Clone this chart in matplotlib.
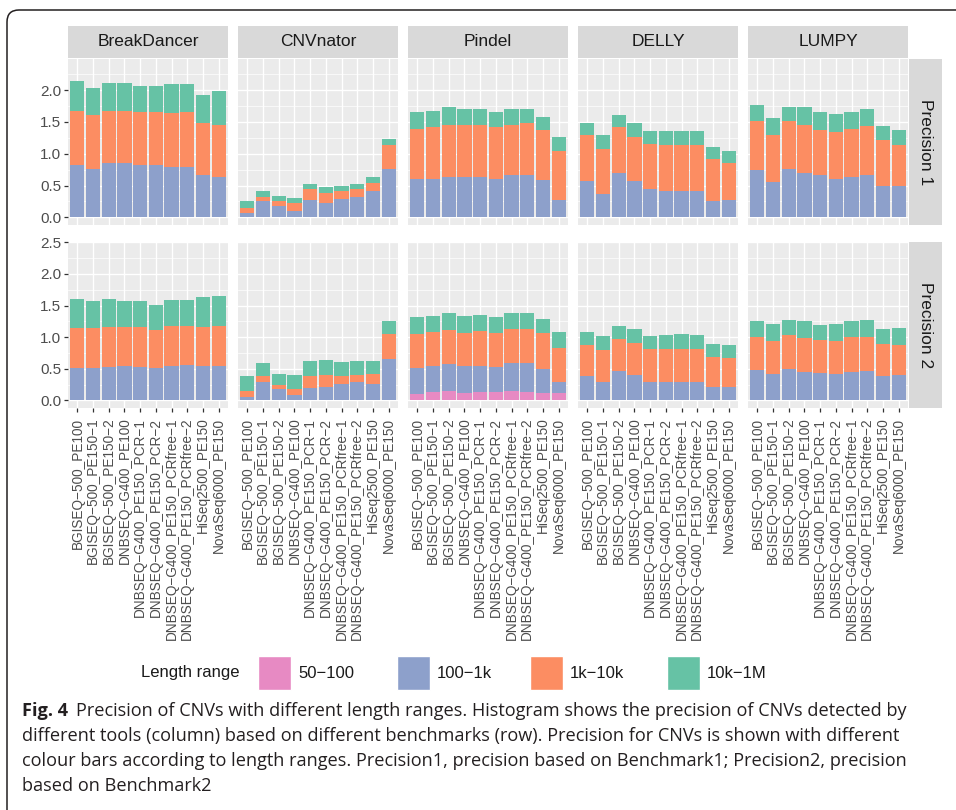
import matplotlib
matplotlib.use("Agg")
import matplotlib.pyplot as plt
import numpy as np
from matplotlib.patches import FancyBboxPatch, Rectangle
from matplotlib.transforms import IdentityTransform

plt.rcParams["font.family"] = ["Liberation Sans", "DejaVu Sans"]

TOOLS = ["BreakDancer", "CNVnator", "Pindel", "DELLY", "LUMPY"]
ROWS = ["Precision 1", "Precision 2"]
SAMPLES = [
    "BGISEQ−500_PE100", "BGISEQ−500_PE150−1", "BGISEQ−500_PE150−2",
    "DNBSEQ−G400_PE100", "DNBSEQ−G400_PE150_PCR−1", "DNBSEQ−G400_PE150_PCR−2",
    "DNBSEQ−G400_PE150_PCRfree−1", "DNBSEQ−G400_PE150_PCRfree−2",
    "HiSeq2500_PE150", "NovaSeq6000_PE150",
]
RANGES = ["50−100", "100−1k", "1k−10k", "10k−1M"]
COLORS = ["#E78AC3", "#8DA0CB", "#FC8D62", "#66C2A5"]

# Precision 1 (Benchmark1); one list per tool, in TOOLS order
P1_50_100 = [
    [0] * 10,
    [0] * 10,
    [0.01] * 10,
    [0] * 10,
    [0] * 10,
]
P1_100_1K = [
    [0.83, 0.76, 0.85, 0.85, 0.82, 0.83, 0.79, 0.79, 0.66, 0.64],
    [0.07, 0.25, 0.18, 0.10, 0.28, 0.23, 0.29, 0.32, 0.41, 0.76],
    [0.60, 0.60, 0.62, 0.62, 0.62, 0.60, 0.65, 0.65, 0.58, 0.27],
    [0.57, 0.37, 0.70, 0.57, 0.44, 0.42, 0.42, 0.41, 0.26, 0.28],
    [0.75, 0.56, 0.76, 0.70, 0.66, 0.61, 0.64, 0.67, 0.50, 0.50],
]
P1_1K_10K = [
    [0.85, 0.85, 0.83, 0.83, 0.83, 0.82, 0.85, 0.86, 0.82, 0.82],
    [0.08, 0.07, 0.07, 0.12, 0.16, 0.15, 0.12, 0.13, 0.13, 0.37],
    [0.78, 0.81, 0.82, 0.82, 0.82, 0.81, 0.80, 0.82, 0.79, 0.76],
    [0.72, 0.71, 0.72, 0.70, 0.72, 0.72, 0.72, 0.73, 0.66, 0.58],
    [0.76, 0.74, 0.75, 0.76, 0.72, 0.74, 0.75, 0.76, 0.71, 0.64],
]
P1_10K_1M = [
    [0.47, 0.42, 0.44, 0.43, 0.41, 0.41, 0.45, 0.44, 0.44, 0.53],
    [0.10, 0.09, 0.08, 0.09, 0.09, 0.10, 0.09, 0.08, 0.09, 0.10],
    [0.26, 0.26, 0.28, 0.26, 0.25, 0.23, 0.25, 0.23, 0.20, 0.22],
    [0.20, 0.22, 0.19, 0.22, 0.20, 0.22, 0.22, 0.22, 0.19, 0.19],
    [0.25, 0.27, 0.23, 0.27, 0.27, 0.27, 0.27, 0.28, 0.23, 0.24],
]

# Precision 2 (Benchmark2)
P2_50_100 = [
    [0, 0.005, 0.005, 0, 0, 0.005, 0.005, 0, 0, 0],
    [0.01, 0, 0, 0, 0, 0, 0, 0, 0, 0],
    [0.10, 0.14, 0.15, 0.12, 0.14, 0.14, 0.15, 0.14, 0.11, 0.11],
    [0, 0.005, 0, 0, 0.005, 0, 0, 0, 0.005, 0],
    [0, 0, 0.005, 0, 0.005, 0, 0.005, 0, 0, 0],
]
P2_100_1K = [
    [0.52, 0.515, 0.525, 0.55, 0.53, 0.515, 0.545, 0.56, 0.55, 0.55],
    [0.04, 0.29, 0.18, 0.08, 0.20, 0.21, 0.26, 0.29, 0.26, 0.65],
    [0.42, 0.41, 0.43, 0.43, 0.41, 0.39, 0.44, 0.45, 0.38, 0.18],
    [0.39, 0.285, 0.46, 0.40, 0.285, 0.29, 0.29, 0.29, 0.205, 0.21],
    [0.48, 0.42, 0.485, 0.45, 0.425, 0.42, 0.445, 0.46, 0.39, 0.40],
]
P2_1K_10K = [
    [0.63, 0.63, 0.63, 0.61, 0.63, 0.60, 0.63, 0.62, 0.61, 0.63],
    [0.10, 0.10, 0.06, 0.10, 0.19, 0.19, 0.13, 0.11, 0.16, 0.40],
    [0.53, 0.53, 0.54, 0.51, 0.54, 0.53, 0.54, 0.54, 0.57, 0.54],
    [0.48, 0.51, 0.51, 0.51, 0.52, 0.52, 0.52, 0.52, 0.47, 0.46],
    [0.52, 0.52, 0.54, 0.54, 0.53, 0.52, 0.55, 0.54, 0.50, 0.47],
]
P2_10K_1M = [
    [0.45, 0.42, 0.44, 0.41, 0.41, 0.39, 0.40, 0.40, 0.47, 0.47],
    [0.23, 0.20, 0.18, 0.22, 0.23, 0.24, 0.22, 0.22, 0.20, 0.20],
    [0.27, 0.25, 0.26, 0.27, 0.26, 0.26, 0.25, 0.25, 0.22, 0.25],
    [0.21, 0.22, 0.20, 0.22, 0.21, 0.22, 0.24, 0.22, 0.21, 0.20],
    [0.25, 0.27, 0.24, 0.26, 0.23, 0.27, 0.25, 0.27, 0.24, 0.27],
]

CAPTION = [
    "Precision of CNVs with different length ranges. Histogram shows the precision of CNVs detected by",
    "different tools (column) based on different benchmarks (row). Precision for CNVs is shown with different",
    "colour bars according to length ranges. Precision1, precision based on Benchmark1; Precision2, precision",
    "based on Benchmark2",
]

W, H = 956, 810
PANEL_BG = "#EBEBEB"
STRIP_BG = "#D9D9D9"
TICK_COL = "#4D4D4D"


def box(x0, y0, x1, y1):
    # pixel box (top-left origin) -> figure fraction rect
    return [x0 / W, 1 - y1 / H, (x1 - x0) / W, (y1 - y0) / H]


fig = plt.figure(figsize=(W / 100, H / 100), dpi=100)
fig.patch.set_facecolor("white")

base = fig.add_axes([0, 0, 1, 1], zorder=-1)
base.set_xlim(0, W)
base.set_ylim(H, 0)
base.axis("off")

rows = [
    (P1_50_100, P1_100_1K, P1_1K_10K, P1_10K_1M),
    (P2_50_100, P2_100_1K, P2_1K_10K, P2_10K_1M),
]
row_px = [(59, 225), (242, 408)]
row_ylim = [(-0.12, 2.49), (-0.12, 2.505)]
row_ticks = [np.arange(0, 2.01, 0.5), np.arange(0, 2.51, 0.5)]
x = np.arange(len(SAMPLES))

for r, series in enumerate(rows):
    y0, y1 = row_px[r]
    for c, tool in enumerate(TOOLS):
        x0 = 68 + 170 * c
        ax = fig.add_axes(box(x0, y0, x0 + 160, y1))
        ax.set_facecolor(PANEL_BG)
        for s in ax.spines.values():
            s.set_visible(False)

        bottom = np.zeros(len(SAMPLES))
        for k, vals in enumerate(series):
            v = np.array(vals[c], dtype=float)
            ax.bar(x, v, width=0.9, bottom=bottom, color=COLORS[k],
                   linewidth=0, zorder=2)
            bottom += v

        ax.set_xlim(-0.6, len(SAMPLES) - 0.4)
        ax.set_ylim(*row_ylim[r])
        ax.set_yticks(row_ticks[r])
        ax.set_yticks(np.arange(0.25, row_ylim[r][1], 0.5), minor=True)
        ax.set_xticks(x)
        ax.grid(True, which="major", color="white", linewidth=1.0, zorder=0)
        ax.grid(True, which="minor", axis="y", color="white", linewidth=0.5, zorder=0)
        ax.set_axisbelow(True)

        ax.tick_params(axis="both", which="minor", length=0)
        ax.tick_params(axis="y", length=3, width=0.9, color="#333333",
                       labelsize=11, labelcolor=TICK_COL, pad=2)
        if c == 0:
            ax.set_yticklabels([f"{t:.1f}" for t in row_ticks[r]])
        else:
            ax.tick_params(axis="y", length=0, labelleft=False)

        if r == len(rows) - 1:
            ax.tick_params(axis="x", length=3, width=0.9, color="#333333", pad=4)
            ax.set_xticklabels(SAMPLES, rotation=90, ha="center", va="top",
                               fontsize=9.8, color=TICK_COL)
        else:
            ax.tick_params(axis="x", length=0, labelbottom=False)

        # column strips across the top
        if r == 0:
            st = fig.add_axes(box(x0, 26, x0 + 160, 58))
            st.set_facecolor(STRIP_BG)
            st.set_xticks([])
            st.set_yticks([])
            for s in st.spines.values():
                s.set_visible(False)
            st.text(0.5, 0.5, tool, ha="center", va="center", fontsize=12.5,
                    color="#1A1A1A", transform=st.transAxes)

    # row strip on the right
    rs = fig.add_axes(box(909, y0, 942, y1))
    rs.set_facecolor(STRIP_BG)
    rs.set_xticks([])
    rs.set_yticks([])
    for s in rs.spines.values():
        s.set_visible(False)
    rs.text(0.5, 0.5, ROWS[r], ha="center", va="center", rotation=-90,
            fontsize=12.5, color="#1A1A1A", transform=rs.transAxes)

# legend
base.text(240, 673, "Length range", ha="right", va="center", fontsize=12,
          color="#1A1A1A")
key_x = [258, 397, 530, 667]
for kx, lab, col in zip(key_x, RANGES, COLORS):
    base.add_patch(Rectangle((kx, 656), 33, 34, facecolor=col,
                             edgecolor="white", linewidth=1))
    base.text(kx + 40, 673, lab, ha="left", va="center", fontsize=12,
              color="#1A1A1A")

# caption
cap_font = ["Open Sans", "DejaVu Sans"]
cap_size = 13.1
fig_lbl = base.text(22, 711, "Fig. 4", ha="left", va="center", fontsize=cap_size,
                    fontweight="bold", family=cap_font, color="#231F20")
base.annotate(CAPTION[0], xy=(1, 0.5), xycoords=fig_lbl, xytext=(6, 0),
              textcoords="offset points", ha="left", va="center",
              fontsize=cap_size, family=cap_font, color="#231F20")
for i, line in enumerate(CAPTION[1:], start=1):
    base.text(22, 711 + 25 * i, line, ha="left", va="center", fontsize=cap_size,
              family=cap_font, color="#231F20")

# frame around figure and caption
frame = FancyBboxPatch((7, -40), 1000, H - 10 + 40,
                       boxstyle="round,pad=0,rounding_size=12",
                       transform=IdentityTransform(), facecolor="none",
                       edgecolor="#231F20", linewidth=1.1)
fig.add_artist(frame)

fig.savefig("out.png", dpi=100)
